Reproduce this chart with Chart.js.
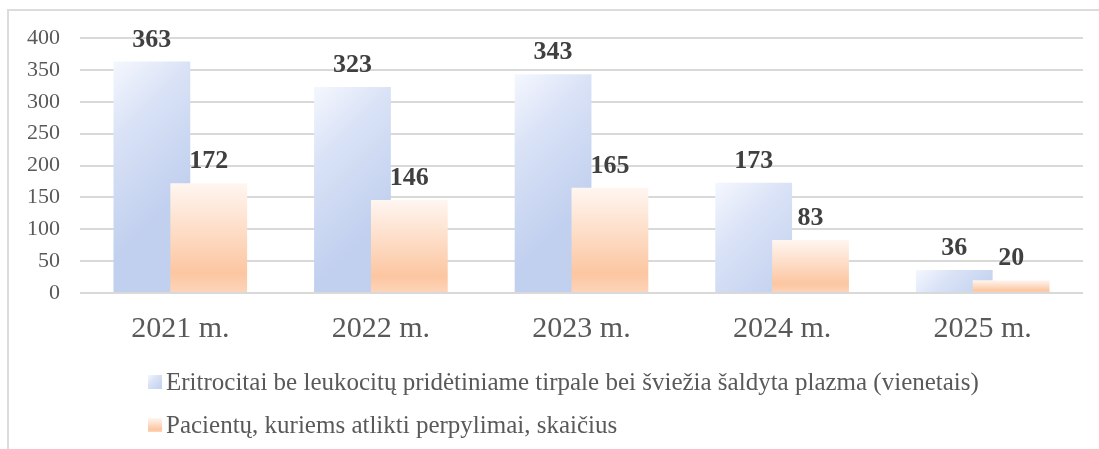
<!DOCTYPE html>
<html>
<head>
<meta charset="utf-8">
<script src="https://cdn.jsdelivr.net/npm/chart.js@4"></script>
<style>
  html, body { margin: 0; padding: 0; background: #ffffff; }
  #wrap { position: absolute; left: 0; top: 0; width: 1099px; height: 449px; }
  #frame { position: absolute; left: 7px; top: 9px; width: 1092px; height: 440px;
           border-top: 2px solid #dcdcdc; border-left: 2px solid #dcdcdc; box-sizing: border-box; }
  canvas { position: absolute; left: 0; top: 0; }
</style>
</head>
<body>
<div id="wrap">
  <div id="frame"></div>
  <canvas id="c" width="1099" height="449"></canvas>
</div>
<script>
// ---- data ----
const categories = ['2021 m.', '2022 m.', '2023 m.', '2024 m.', '2025 m.'];
const seriesNames = [
  'Eritrocitai be leukocitų pridėtiniame tirpale bei šviežia šaldyta plazma (vienetais)',
  'Pacientų, kuriems atlikti perpylimai, skaičius'
];
const eritrocitai = [363, 323, 343, 173, 36];
const pacientai = [172, 146, 165, 83, 20];
const yTicks = [0, 50, 100, 150, 200, 250, 300, 350, 400];

// ---- styling ----
const SERIF = '"Liberation Serif", "Times New Roman", serif';
const CAT_PCT = 0.567;
const BAR_PCT = 1.35;

function barBox(ctx) {
  const chart = ctx.chart;
  const xs = chart.scales.x, ys = chart.scales.y;
  if (!chart.chartArea || !xs || !ys) return null;
  const cat = xs.width / categories.length;
  const slot = cat * CAT_PCT / 2;
  const w = slot * BAR_PCT;
  const cx = xs.getPixelForValue(ctx.dataIndex) + (ctx.datasetIndex === 0 ? -slot / 2 : slot / 2);
  const v = ctx.dataset.data[ctx.dataIndex];
  const top = ys.getPixelForValue(v), bottom = ys.getPixelForValue(0);
  return { l: cx - w / 2, r: cx + w / 2, t: top, b: bottom };
}
function blueGrad(c2d, b) {
  const w = b.r - b.l, h = b.b - b.t;
  const d = Math.min((w + h) / 2, w * 1.3);
  const g = c2d.createLinearGradient(b.l, b.t, b.l + d, b.t + d);
  g.addColorStop(0, '#f4f7fe');
  g.addColorStop(0.4, '#d9e2f6');
  g.addColorStop(1, '#c1d0ef');
  return g;
}
function orangeGrad(c2d, b) {
  const g = c2d.createLinearGradient(0, b.t, 0, b.b);
  g.addColorStop(0, '#fff6f1');
  g.addColorStop(0.82, '#fcc6a1');
  g.addColorStop(1, '#fdd5bb');
  return g;
}
function blueBg(ctx) {
  const b = barBox(ctx);
  return b ? blueGrad(ctx.chart.ctx, b) : '#d6e0f6';
}
function orangeBg(ctx) {
  const b = barBox(ctx);
  return b ? orangeGrad(ctx.chart.ctx, b) : '#fcd3b5';
}

// draw datasets in index order so the second series sits on top
const drawOrderPlugin = {
  id: 'drawOrder',
  beforeDatasetsDraw(chart) {
    chart.data.datasets.forEach((ds, i) => {
      const meta = chart.getDatasetMeta(i);
      if (!meta.hidden) meta.controller.draw();
    });
    return false;
  }
};

const valueLabelPlugin = {
  id: 'valueLabels',
  afterDraw(chart) {
    const c = chart.ctx;
    c.save();
    c.font = 'bold 26px ' + SERIF;
    c.fillStyle = '#404040';
    c.textAlign = 'center';
    c.textBaseline = 'alphabetic';
    chart.data.datasets.forEach((ds, i) => {
      const meta = chart.getDatasetMeta(i);
      meta.data.forEach((el, j) => {
        c.fillText(String(ds.data[j]), el.x, el.y - 15);
      });
    });
    c.restore();
  }
};

const legendPlugin = {
  id: 'customLegend',
  afterDraw(chart) {
    const c = chart.ctx;
    c.save();
    c.font = '25px ' + SERIF;
    c.textAlign = 'left';
    c.textBaseline = 'alphabetic';
    const x0 = 148, rows = [375, 418], sw = 14;
    chart.data.datasets.forEach((ds, i) => {
      const y = rows[i];
      const box = { l: x0, r: x0 + sw, t: y, b: y + sw };
      c.fillStyle = i === 0 ? blueGrad(c, box) : orangeGrad(c, box);
      c.fillRect(x0, y, sw, sw);
      c.fillStyle = '#595959';
      c.fillText(ds.label, x0 + 18, y + 15);
    });
    c.restore();
  }
};

new Chart(document.getElementById('c'), {
  type: 'bar',
  data: {
    labels: categories,
    datasets: [
      { label: seriesNames[0], data: eritrocitai, backgroundColor: blueBg,
        categoryPercentage: CAT_PCT, barPercentage: BAR_PCT, borderWidth: 0 },
      { label: seriesNames[1], data: pacientai, backgroundColor: orangeBg,
        categoryPercentage: CAT_PCT, barPercentage: BAR_PCT, borderWidth: 0 }
    ]
  },
  options: {
    responsive: false,
    animation: false,
    layout: { padding: { left: 10, right: 16, top: 38, bottom: 0 } },
    plugins: { legend: { display: false }, tooltip: { enabled: false } },
    scales: {
      x: {
        grid: { display: false, drawTicks: false },
        border: { display: false },
        ticks: { color: '#595959', font: { family: SERIF, size: 30 }, padding: 18 },
        afterFit(s) { s.height = 156; }
      },
      y: {
        min: yTicks[0], max: yTicks[yTicks.length - 1],
        grid: { color: '#d9d9d9', lineWidth: 2, drawTicks: false },
        border: { display: false },
        ticks: { stepSize: yTicks[1] - yTicks[0], color: '#595959',
                 font: { family: SERIF, size: 22 }, padding: 20 },
        afterFit(s) { s.width = 70; }
      }
    }
  },
  plugins: [drawOrderPlugin, valueLabelPlugin, legendPlugin]
});
</script>
</body>
</html>
